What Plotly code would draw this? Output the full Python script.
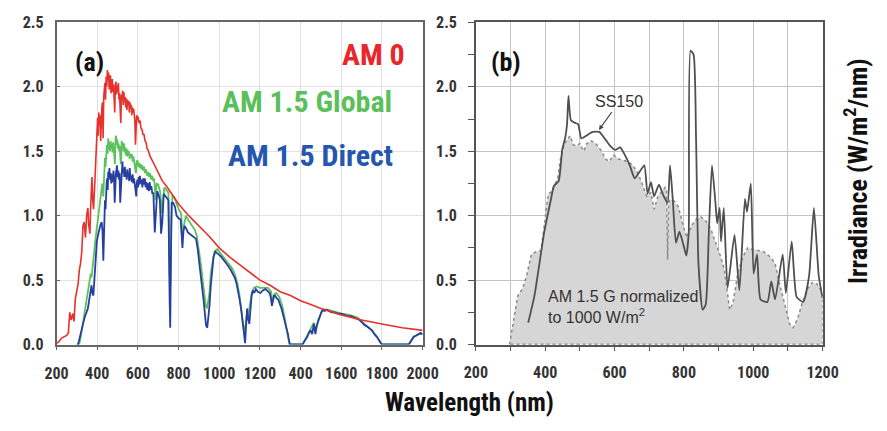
import plotly.graph_objects as go

# ---------------- Panel (a) data ----------------
am0_nm = [200, 210, 225, 240, 250, 258, 265, 272, 280, 286, 292, 300, 306, 312, 318, 324, 330, 336, 342, 348,
          354, 358, 364, 368, 374, 378, 382, 388, 394, 398, 402, 405, 408, 411, 414, 417, 420, 423, 426, 429,
          432, 435, 438, 441, 444, 447, 450, 453, 456, 459, 462, 465, 468, 471, 474, 477, 480, 483, 486, 489,
          492, 495, 498, 501, 504, 507, 510, 513, 516, 519, 522, 525, 528, 531, 534, 537, 540, 543, 546, 549,
          552, 555, 558, 561, 564, 567, 570, 573, 576, 579, 582, 585, 588, 591, 594, 597, 600, 605, 610, 615,
          620, 625, 630, 635, 640, 645, 650, 656, 660, 670, 680, 690, 700, 720, 740, 760, 780, 800, 850, 900,
          950, 1000, 1050, 1100, 1150, 1200, 1250, 1300, 1350, 1400, 1450, 1500, 1600, 1700, 1800, 1900, 2000]
am0_val = [0.01, 0.02, 0.05, 0.06, 0.07, 0.09, 0.25, 0.19, 0.24, 0.18, 0.35, 0.42, 0.47, 0.58, 0.63, 0.72, 0.92, 0.95, 0.83, 1.00,
           1.06, 0.93, 0.86, 1.08, 1.30, 1.12, 1.05, 1.25, 1.50, 1.65, 1.76, 1.62, 1.80, 1.70, 1.78, 1.58, 1.75, 1.84, 1.88, 1.60,
           1.92, 1.98, 2.03, 1.90, 2.08, 2.00, 2.13, 2.05, 2.11, 1.98, 2.07, 2.09, 1.95, 2.04, 2.06, 1.96, 2.02, 1.92, 1.80, 2.00,
           2.04, 1.94, 2.01, 1.96, 2.03, 1.90, 1.95, 1.82, 1.72, 1.94, 1.90, 1.97, 1.86, 1.96, 1.88, 1.92, 1.84, 1.91, 1.82, 1.90,
           1.86, 1.89, 1.80, 1.88, 1.83, 1.86, 1.78, 1.84, 1.80, 1.83, 1.76, 1.74, 1.55, 1.76, 1.78, 1.74, 1.77, 1.72, 1.74, 1.68,
           1.67, 1.63, 1.63, 1.58, 1.57, 1.52, 1.51, 1.48, 1.46, 1.43, 1.40, 1.36, 1.33, 1.27, 1.23, 1.18, 1.14, 1.09, 1.00, 0.92,
           0.84, 0.75, 0.68, 0.62, 0.56, 0.50, 0.46, 0.41, 0.38, 0.34, 0.31, 0.28, 0.23, 0.19, 0.16, 0.13, 0.11]

glob_nm = [300, 310, 316, 322, 330, 338, 346, 354, 362, 368, 372, 378, 384, 390, 394, 398, 404, 410, 416, 420,
           425, 430, 434, 438, 441, 444, 448, 451, 454, 457, 460, 463, 466, 469, 472, 475, 478, 481, 484, 487,
           490, 493, 496, 499, 502, 505, 508, 511, 514, 517, 520, 523, 526, 529, 532, 535, 538, 541, 544, 547,
           550, 553, 556, 559, 562, 566, 570, 574, 578, 582, 586, 590, 594, 598, 602, 606, 610, 614, 618, 622,
           626, 630, 635, 640, 645, 650, 655, 660, 665, 670, 675, 680, 687, 692, 700, 710, 718, 724, 730, 740,
           750, 756, 760, 764, 770, 780, 790, 800, 812, 820, 826, 836, 850, 864, 880, 890, 900, 910, 920, 928,
           934, 940, 946, 952, 958, 966, 976, 990, 1000, 1020, 1040, 1060, 1070, 1080, 1090, 1100, 1110, 1118, 1126, 1134,
           1142, 1150, 1160, 1170, 1185, 1200, 1220, 1240, 1255, 1262, 1270, 1280, 1295, 1310, 1320, 1330, 1340, 1350, 1410, 1430,
           1450, 1465, 1475, 1486, 1500, 1510, 1530, 1560, 1600, 1640, 1680, 1700, 1720, 1750, 1775, 1800, 1930, 1955, 1980, 2000]
glob_val = [0.0, 0.0, 0.03, 0.08, 0.16, 0.25, 0.33, 0.42, 0.50, 0.55, 0.52, 0.65, 0.70, 0.80, 0.85, 0.92, 0.98, 1.07, 1.12, 1.20,
            1.25, 1.15, 1.30, 1.45, 1.38, 1.53, 1.55, 1.48, 1.60, 1.52, 1.57, 1.50, 1.58, 1.52, 1.56, 1.49, 1.57, 1.52, 1.45, 1.40,
            1.60, 1.62, 1.55, 1.59, 1.52, 1.56, 1.50, 1.54, 1.44, 1.40, 1.58, 1.52, 1.57, 1.50, 1.56, 1.49, 1.53, 1.47, 1.52, 1.46,
            1.51, 1.47, 1.50, 1.44, 1.48, 1.45, 1.48, 1.42, 1.46, 1.42, 1.40, 1.33, 1.42, 1.43, 1.38, 1.41, 1.37, 1.40, 1.36, 1.39,
            1.35, 1.38, 1.33, 1.36, 1.31, 1.34, 1.30, 1.33, 1.28, 1.31, 1.27, 1.29, 1.12, 1.25, 1.24, 1.18, 1.02, 1.10, 1.22, 1.20,
            1.18, 0.55, 0.45, 0.95, 1.16, 1.14, 1.10, 1.05, 1.02, 0.85, 0.92, 1.00, 0.96, 0.93, 0.89, 0.84, 0.74, 0.62, 0.48, 0.38,
            0.30, 0.28, 0.36, 0.40, 0.55, 0.64, 0.72, 0.74, 0.72, 0.68, 0.64, 0.60, 0.57, 0.53, 0.47, 0.38, 0.25, 0.15, 0.10, 0.22,
            0.22, 0.30, 0.40, 0.44, 0.45, 0.44, 0.44, 0.44, 0.41, 0.33, 0.39, 0.40, 0.37, 0.30, 0.22, 0.12, 0.04, 0.0, 0.0, 0.06,
            0.12, 0.17, 0.10, 0.19, 0.24, 0.27, 0.27, 0.26, 0.24, 0.23, 0.21, 0.18, 0.15, 0.11, 0.06, 0.0, 0.0, 0.06, 0.08, 0.08]

dir_nm = [300, 306, 312, 318, 324, 330, 338, 346, 354, 362, 368, 372, 376, 381, 386, 390, 394, 398, 404, 410,
          416, 422, 426, 430, 434, 438, 441, 444, 447, 449, 452, 454, 457, 460, 463, 466, 469, 473, 476, 480,
          483, 486, 489, 492, 495, 497, 500, 504, 507, 510, 513, 516, 519, 522, 524, 527, 530, 533, 536, 539,
          542, 545, 548, 551, 554, 557, 560, 563, 566, 570, 574, 578, 581, 585, 589, 592, 595, 598, 601, 604,
          607, 610, 614, 618, 622, 626, 630, 634, 638, 642, 646, 650, 654, 658, 662, 666, 671, 676, 683, 688,
          695, 702, 708, 714, 720, 727, 735, 743, 750, 756, 759, 762, 766, 774, 782, 790, 800, 810, 815, 819,
          824, 830, 838, 846, 854, 862, 872, 880, 886, 894, 902, 910, 918, 924, 930, 935, 941, 946, 952, 958,
          965, 972, 981, 990, 997, 1010, 1021, 1032, 1044, 1056, 1068, 1076, 1084, 1092, 1100, 1108, 1116, 1122, 1127, 1132,
          1137, 1142, 1148, 1154, 1159, 1165, 1172, 1180, 1190, 1203, 1214, 1227, 1238, 1248, 1254, 1259, 1264, 1270, 1275, 1282,
          1290, 1298, 1306, 1314, 1322, 1330, 1338, 1346, 1410, 1420, 1433, 1441, 1449, 1457, 1465, 1469, 1473, 1478, 1486, 1492,
          1497, 1502, 1508, 1518, 1529, 1540, 1552, 1568, 1584, 1600, 1616, 1632, 1648, 1664, 1679, 1690, 1703, 1715, 1727, 1740,
          1751, 1763, 1775, 1787, 1799, 1933, 1945, 1957, 1970, 1981, 1990, 2000]
dir_val = [0.0, 0.0, 0.04, 0.09, 0.12, 0.16, 0.21, 0.25, 0.28, 0.36, 0.42, 0.46, 0.40, 0.38, 0.50, 0.60, 0.72, 0.80, 0.85, 0.90,
           0.93, 0.95, 0.88, 0.65, 0.98, 1.12, 1.05, 1.22, 1.27, 1.29, 1.20, 1.34, 1.30, 1.37, 1.28, 1.33, 1.25, 1.32, 1.26, 1.35,
           1.28, 1.10, 1.28, 1.33, 1.36, 1.39, 1.30, 1.35, 1.28, 1.33, 1.10, 1.18, 1.30, 1.36, 1.42, 1.33, 1.37, 1.30, 1.38, 1.30,
           1.34, 1.28, 1.36, 1.30, 1.33, 1.27, 1.37, 1.28, 1.31, 1.26, 1.32, 1.25, 1.29, 1.24, 1.20, 1.15, 1.26, 1.28, 1.22, 1.30,
           1.24, 1.31, 1.25, 1.28, 1.22, 1.29, 1.24, 1.29, 1.22, 1.26, 1.20, 1.25, 1.19, 1.26, 1.20, 1.23, 1.17, 1.18, 0.87, 1.05,
           1.19, 1.16, 1.12, 0.86, 0.95, 1.17, 1.15, 1.14, 1.12, 0.35, 0.13, 0.60, 1.10, 1.10, 1.07, 1.00, 0.98, 0.97, 0.88, 0.75,
           0.88, 0.92, 0.90, 0.87, 0.86, 0.85, 0.84, 0.83, 0.82, 0.74, 0.63, 0.55, 0.45, 0.33, 0.23, 0.15, 0.13, 0.20, 0.30, 0.45,
           0.60, 0.68, 0.72, 0.71, 0.70, 0.68, 0.66, 0.64, 0.61, 0.58, 0.55, 0.52, 0.48, 0.42, 0.35, 0.27, 0.18, 0.08, 0.01, 0.15,
           0.28, 0.20, 0.16, 0.28, 0.38, 0.42, 0.40, 0.43, 0.41, 0.40, 0.42, 0.43, 0.41, 0.40, 0.36, 0.30, 0.34, 0.38, 0.38, 0.36,
           0.35, 0.32, 0.28, 0.23, 0.18, 0.13, 0.08, 0.0, 0.0, 0.03, 0.06, 0.09, 0.11, 0.08, 0.16, 0.12, 0.08, 0.14, 0.18, 0.21,
           0.23, 0.25, 0.27, 0.26, 0.27, 0.26, 0.25, 0.25, 0.24, 0.24, 0.23, 0.22, 0.22, 0.21, 0.20, 0.19, 0.17, 0.15, 0.14, 0.12,
           0.11, 0.08, 0.06, 0.03, 0.0, 0.0, 0.03, 0.06, 0.07, 0.08, 0.09, 0.08]

# ---------------- Panel (b) data ----------------
ref_nm = [297, 309, 321, 334, 346, 360, 374, 388, 397, 409, 421, 427, 436, 444, 455, 463, 472, 481, 490, 500,
          511, 520, 532, 546, 560, 574, 584, 598, 611, 625, 639, 653, 667, 681, 693, 705, 714, 725, 737, 746,
          750, 753, 756, 759, 770, 784, 798, 809, 821, 835, 849, 863, 877, 891, 905, 917, 926, 932, 942, 956,
          970, 984, 998, 1012, 1030, 1049, 1063, 1077, 1091, 1105, 1115, 1128, 1142, 1156, 1170, 1184, 1193, 1200, 1200]
ref_val = [0.0, 0.19, 0.38, 0.43, 0.53, 0.70, 0.72, 0.73, 0.92, 1.17, 1.19, 1.24, 1.29, 1.44, 1.56, 1.59, 1.62, 1.55, 1.54, 1.56,
           1.50, 1.56, 1.58, 1.56, 1.51, 1.44, 1.42, 1.47, 1.44, 1.43, 1.42, 1.39, 1.33, 1.24, 1.15, 1.18, 1.05, 1.15, 1.19, 1.22,
           1.20, 0.66, 1.10, 1.12, 1.12, 1.07, 0.92, 0.83, 0.92, 0.97, 0.99, 0.96, 0.90, 0.80, 0.69, 0.58, 0.41, 0.27, 0.33, 0.56,
           0.68, 0.75, 0.74, 0.73, 0.72, 0.68, 0.63, 0.46, 0.31, 0.16, 0.13, 0.20, 0.33, 0.43, 0.48, 0.47, 0.43, 0.40, 0.0]

ss_nm = [351, 369, 397, 416, 425, 439, 449, 458, 463, 467, 474, 486, 495, 504, 518, 537, 556, 574, 588, 602,
         616, 630, 644, 658, 672, 686, 695, 705, 714, 728, 742, 753, 760, 768, 777, 787, 798, 807, 814, 819,
         828, 835, 842, 854, 863, 872, 881, 891, 896, 903, 907, 915, 926, 946, 960, 976, 982, 993, 1001, 1011,
         1021, 1041, 1052, 1063, 1085, 1094, 1111, 1125, 1144, 1161, 1175, 1189, 1200]
ss_val = [0.17, 0.38, 0.87, 1.12, 1.23, 1.27, 1.51, 1.61, 1.71, 1.93, 1.74, 1.72, 1.71, 1.60, 1.62, 1.65, 1.65, 1.59, 1.54, 1.51,
          1.53, 1.47, 1.39, 1.29, 1.34, 1.39, 1.17, 1.26, 1.15, 1.24, 1.15, 1.10, 1.39, 1.12, 0.79, 0.875, 0.78, 0.69, 0.875, 2.28,
          2.25, 1.61, 0.63, 0.27, 0.31, 0.875, 1.39, 1.10, 0.94, 1.06, 0.80, 1.06, 0.44, 0.85, 0.42, 1.13, 1.03, 1.25, 0.55, 0.70,
          0.35, 0.33, 0.49, 0.35, 0.70, 0.40, 0.80, 0.37, 0.33, 0.53, 1.06, 0.53, 0.36]

base_nm = [300, 1200]
base_val = [0.0, 0.0]

ticks_a = [200, 400, 600, 800, 1000, 1200, 1400, 1600, 1800, 2000]
ticklabels_a = ["200", "400", "600", "800", "1000", "1200", "400", "1600", "1800", "2000"]
ticks_b = [200, 400, 600, 800, 1000, 1200]
ticklabels_b = ["200", "400", "600", "800", "1000", "1200"]
yticks = [0.0, 0.5, 1.0, 1.5, 2.0, 2.5]

COND = "Liberation Sans Narrow, Roboto Condensed, DejaVu Sans Condensed, Arial Narrow, sans-serif"
SANS = "Liberation Sans, Arial, Helvetica, sans-serif"

fig = go.Figure()

# panel (a)
fig.add_trace(go.Scatter(x=glob_nm, y=glob_val, mode="lines", line=dict(color="#5cc25e", width=1.8),
                         xaxis="x", yaxis="y", showlegend=False))
fig.add_trace(go.Scatter(x=dir_nm, y=dir_val, mode="lines", line=dict(color="#263fa0", width=1.8),
                         xaxis="x", yaxis="y", showlegend=False))
fig.add_trace(go.Scatter(x=am0_nm, y=am0_val, mode="lines", line=dict(color="#e8302c", width=1.6),
                         xaxis="x", yaxis="y", showlegend=False))

# panel (b)
fig.add_trace(go.Scatter(x=ref_nm, y=ref_val, mode="lines", fill="tozeroy", fillcolor="#d6d6d6",
                         line=dict(color="#8a8a8a", width=1.5, dash="dot"),
                         xaxis="x2", yaxis="y2", showlegend=False))
fig.add_trace(go.Scatter(x=base_nm, y=base_val, mode="lines",
                         line=dict(color="#555555", width=1.5, dash="dot"),
                         xaxis="x2", yaxis="y2", showlegend=False))
fig.add_trace(go.Scatter(x=ss_nm, y=ss_val, mode="lines",
                         line=dict(color="#505050", width=1.8, shape="spline", smoothing=0.5),
                         xaxis="x2", yaxis="y2", showlegend=False))

ydom = [1 - 351 / 431, 1 - 14 / 431]
tickfont = dict(family=COND, size=16, color="#333333", weight="bold")

fig.update_layout(
    width=887, height=431,
    margin=dict(l=0, r=0, t=0, b=0),
    paper_bgcolor="white", plot_bgcolor="white",
    xaxis=dict(domain=[46 / 887, 424 / 887], range=[200, 2000], tickmode="array",
               tickvals=ticks_a, ticktext=ticklabels_a, showgrid=True, gridcolor="#e2e2e2", gridwidth=1,
               showline=True, linecolor="#666666", linewidth=1.5, mirror=True,
               ticks="outside", ticklen=4, tickcolor="#666666", tickfont=tickfont,
               ticklabelstandoff=10, zeroline=False, fixedrange=True),
    yaxis=dict(domain=ydom, range=[0, 2.5], tickmode="array", tickvals=yticks, tickformat=".1f",
               showgrid=True, gridcolor="#e2e2e2", gridwidth=1,
               showline=True, linecolor="#666666", linewidth=1.5, mirror=True,
               ticks="inside", ticklen=4, tickcolor="#666666", tickfont=tickfont,
               ticklabelstandoff=8, zeroline=False, fixedrange=True),
    xaxis2=dict(domain=[479 / 887, 837 / 887], range=[200, 1200], tickmode="array",
                tickvals=ticks_b, ticktext=ticklabels_b, showgrid=True, gridcolor="#c4c4c4", gridwidth=1,
                showline=True, linecolor="#555555", linewidth=1.5, mirror=True,
                ticks="outside", ticklen=5, tickcolor="#555555", tickfont=tickfont,
                minor=dict(dtick=100, ticks="outside", ticklen=5, tickcolor="#555555",
                           showgrid=True, gridcolor="#c4c4c4", gridwidth=1),
                ticklabelstandoff=8, zeroline=False, anchor="y2", fixedrange=True),
    yaxis2=dict(domain=ydom, range=[0, 2.5], tickmode="array", tickvals=yticks, tickformat=".1f",
                showgrid=True, gridcolor="#c4c4c4", gridwidth=1,
                showline=True, linecolor="#555555", linewidth=1.5, mirror=True,
                ticks="outside", ticklen=6, tickcolor="#555555", tickfont=tickfont,
                minor=dict(dtick=0.25, ticks="outside", ticklen=6, tickcolor="#555555", showgrid=False),
                ticklabelstandoff=8, zeroline=False, anchor="x2", fixedrange=True),
)

big = dict(family=COND, size=30, weight="bold")
ann = [
    dict(text="(a)", x=80 / 887, y=1 - 55 / 431, xref="paper", yref="paper", showarrow=False,
         font=dict(family=COND, size=26, color="#111111", weight="bold"), xanchor="center", yanchor="middle"),
    dict(text="AM 0", x=408 / 887, y=1 - 48 / 431, xref="paper", yref="paper", showarrow=False,
         font=dict(big, color="#e8262b"), xanchor="right", yanchor="middle"),
    dict(text="AM 1.5 Global", x=394 / 887, y=1 - 97 / 431, xref="paper", yref="paper", showarrow=False,
         font=dict(big, color="#5cbf5c"), xanchor="right", yanchor="middle"),
    dict(text="AM 1.5 Direct", x=396 / 887, y=1 - 153 / 431, xref="paper", yref="paper", showarrow=False,
         font=dict(big, color="#2456b0"), xanchor="right", yanchor="middle"),
    dict(text="(b)", x=510 / 887, y=1 - 55 / 431, xref="paper", yref="paper", showarrow=False,
         font=dict(family=COND, size=26, color="#111111", weight="bold"), xanchor="center", yanchor="middle"),
    dict(text="SS150", x=555, y=1.665, xref="x2", yref="y2", showarrow=True, ax=20, ay=-28,
         arrowhead=2, arrowsize=0.8, arrowwidth=1.2, arrowcolor="#444444", standoff=0,
         font=dict(family=SANS, size=16, color="#333333")),
    dict(text="AM 1.5 G normalized<br>to 1000 W/m<sup>2</sup>", x=551 / 887, y=1 - 312 / 431,
         xref="paper", yref="paper", showarrow=False, align="left",
         font=dict(family=SANS, size=16, color="#333333"), xanchor="left", yanchor="middle"),
    dict(text="Wavelength (nm)", x=472 / 887, y=1 - 412 / 431, xref="paper", yref="paper", showarrow=False,
         font=dict(family=COND, size=25, color="#111111", weight="bold"), xanchor="center", yanchor="middle"),
    dict(text="Irradiance (W/m<sup>2</sup>/nm)", x=871 / 887, y=1 - 170 / 431, xref="paper", yref="paper",
         showarrow=False, textangle=-90,
         font=dict(family=COND, size=26, color="#111111", weight="bold"), xanchor="center", yanchor="middle"),
]
fig.update_layout(annotations=ann)

fig.write_html("out.html")
